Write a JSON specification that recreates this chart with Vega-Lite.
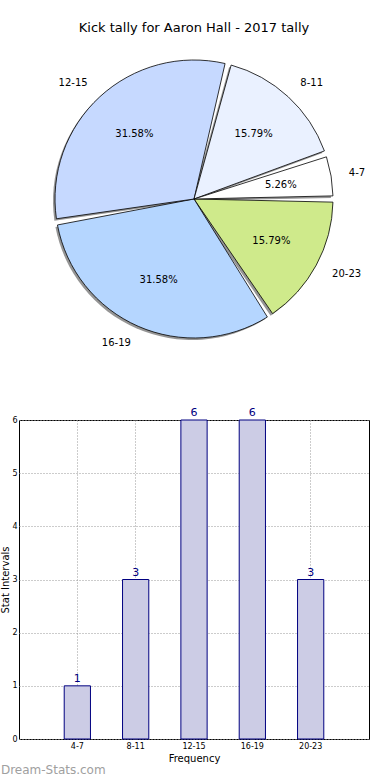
{
  "$schema": "https://vega.github.io/schema/vega-lite/v6.json",
  "autosize": {"type": "pad"},
  "padding": {"left": 0, "top": 22, "right": 0, "bottom": 0},
  "bounds": "flush",
  "spacing": 71,
  "config": {
    "font": "DejaVu Sans",
    "view": {"stroke": null}
  },
  "datasets": {
    "tally": [
      {"range": "20-23", "count": 3, "pct": "15.79%", "ord": 1, "side": "right"},
      {"range": "16-19", "count": 6, "pct": "31.58%", "ord": 2, "side": "left"},
      {"range": "12-15", "count": 6, "pct": "31.58%", "ord": 3, "side": "left"},
      {"range": "8-11", "count": 3, "pct": "15.79%", "ord": 4, "side": "right"},
      {"range": "4-7", "count": 1, "pct": "5.26%", "ord": 5, "side": "right"}
    ]
  },
  "vconcat": [
    {
      "width": 350,
      "height": 300,
      "title": {"text": "Kick tally for Aaron Hall - 2017 tally", "fontSize": 13, "fontWeight": "normal", "color": "#000000", "anchor": "middle", "offset": 14},
      "data": {"name": "tally"},
      "encoding": {
        "theta": {"field": "count", "type": "quantitative", "stack": true, "scale": {"range": [1.5708, 7.854]}},
        "order": {"field": "ord", "type": "quantitative"}
      },
      "layer": [
        {
          "mark": {"type": "arc", "outerRadius": 139, "padAngle": 0.045, "fill": "#7a7a7a", "opacity": 0.8, "xOffset": -2, "yOffset": 2}
        },
        {
          "mark": {"type": "arc", "outerRadius": 139, "padAngle": 0.045, "stroke": "#000000", "strokeWidth": 0.8},
          "encoding": {
            "color": {
              "field": "range", "type": "nominal", "legend": null,
              "scale": {"domain": ["4-7", "8-11", "12-15", "16-19", "20-23"], "range": ["#ffffff", "#eaf1ff", "#c6d9ff", "#b5d6ff", "#cfea8b"]}
            }
          }
        },
        {
          "mark": {"type": "text", "radius": 88, "fontSize": 10, "color": "#000000"},
          "encoding": {"text": {"field": "pct", "type": "nominal"}}
        },
        {
          "mark": {"type": "text", "radius": 157, "fontSize": 10, "align": "left", "color": "#000000"},
          "encoding": {"text": {"condition": {"test": "datum.side == 'right'", "field": "range", "type": "nominal"}, "value": ""}}
        },
        {
          "mark": {"type": "text", "radius": 157, "fontSize": 10, "align": "right", "color": "#000000"},
          "encoding": {"text": {"condition": {"test": "datum.side == 'left'", "field": "range", "type": "nominal"}, "value": ""}}
        }
      ]
    },
    {
      "width": 350,
      "height": 319,
      "title": {"text": "Dream-Stats.com", "orient": "bottom", "anchor": "start", "frame": "bounds", "fontSize": 12, "fontWeight": "normal", "color": "#a0a0a0", "offset": 2},
      "view": {"stroke": "#000000", "strokeWidth": 1},
      "data": {"name": "tally"},
      "encoding": {
        "x": {
          "field": "range", "type": "ordinal",
          "sort": ["4-7", "8-11", "12-15", "16-19", "20-23"],
          "scale": {"paddingInner": 0.55, "paddingOuter": 0.775},
          "axis": {"title": "Frequency", "titleFontSize": 10, "titleFontWeight": "normal", "titlePadding": 3, "labelFontSize": 8, "labelAngle": 0, "labelPadding": 3, "ticks": false, "domain": false, "grid": true, "gridDash": [1, 2], "gridColor": "#999999", "bandPosition": 0.5}
        },
        "y": {
          "field": "count", "type": "quantitative",
          "scale": {"domain": [0, 6], "nice": false},
          "axis": {"title": "Stat Intervals", "titleFontSize": 10, "titleFontWeight": "normal", "titlePadding": 1, "labelFontSize": 8, "labelPadding": 2, "ticks": false, "domain": false, "grid": true, "gridDash": [1, 2], "gridColor": "#999999", "values": [0, 1, 2, 3, 4, 5, 6]}
        }
      },
      "layer": [
        {
          "mark": {"type": "bar", "fill": "#ccccE5", "stroke": "#000080", "strokeWidth": 1}
        },
        {
          "mark": {"type": "text", "baseline": "bottom", "dy": -2, "fontSize": 11, "color": "#000080"},
          "encoding": {"text": {"field": "count", "type": "quantitative"}}
        }
      ]
    }
  ]
}
